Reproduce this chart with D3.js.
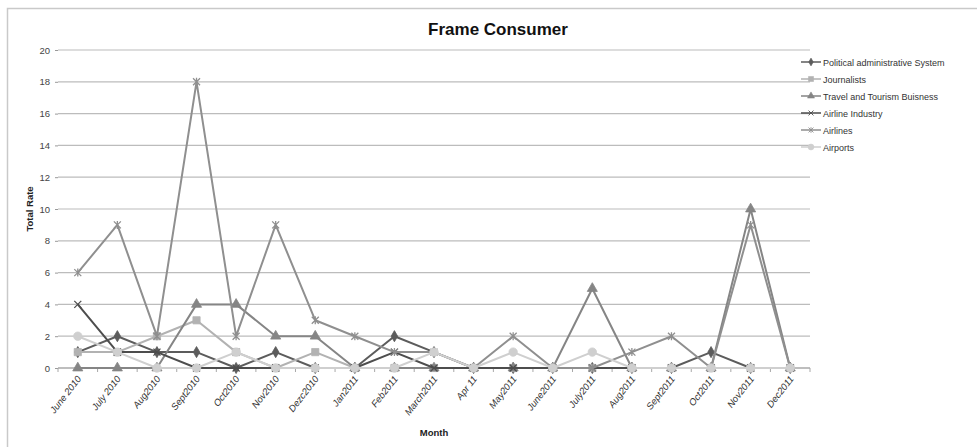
<!DOCTYPE html>
<html>
<head>
<meta charset="utf-8">
<script src="https://cdn.jsdelivr.net/npm/d3@7"></script>
<style>
  body { margin: 0; background: #fff; }
  svg { display: block; font-family: "Liberation Sans", Arial, sans-serif; }
</style>
</head>
<body>
<svg id="chart" width="977" height="447"></svg>
<script>
// Month categories along the x axis
const months = ["June 2010","July 2010","Aug2010","Sept2010","Oct2010","Nov2010","Dezc2010",
  "Jan2011","Feb2011","March2011","Apr 11","May2011","June2011","July2011","Aug2011",
  "Sept2011","Oct2011","Nov2011","Dec2011"];

// Counts per frame consumer group
const politicalSystem = [1,2,1,1,0,1,0,0,2,1,0,0,0,0,0,0,1,0,0];
const journalists     = [1,1,2,3,1,0,1,0,0,0,0,0,0,0,0,0,0,0,0];
const travelTourism   = [0,0,0,4,4,2,2,0,0,0,0,0,0,5,0,0,0,10,0];
const airlineIndustry = [4,1,1,0,0,0,0,0,1,0,0,0,0,0,0,0,0,0,0];
const airlines        = [6,9,2,18,2,9,3,2,1,1,0,2,0,0,1,2,0,9,0];
const airports        = [2,1,0,0,1,0,0,0,0,1,0,1,0,1,0,0,0,0,0];

const yTicks = [0,2,4,6,8,10,12,14,16,18,20];

const series = [
  { name: "Political administrative System", values: politicalSystem, color: "#5c5c5c", marker: "diamond" },
  { name: "Journalists",                    values: journalists,     color: "#b2b2b2", marker: "square" },
  { name: "Travel and Tourism Buisness",     values: travelTourism,   color: "#858585", marker: "triangle" },
  { name: "Airline Industry",                values: airlineIndustry, color: "#4d4d4d", marker: "x" },
  { name: "Airlines",                        values: airlines,        color: "#8f8f8f", marker: "star" },
  { name: "Airports",                        values: airports,        color: "#cfcfcf", marker: "circle" }
];

const svg = d3.select("#chart");

// outer frame
svg.append("rect")
  .attr("x", 7.5).attr("y", 8.5).attr("width", 1000).attr("height", 500)
  .attr("fill", "none").attr("stroke", "#c9c9c9").attr("stroke-width", 1.5);

const plot = { left: 58, right: 810, top: 50, bottom: 368 };

const x = d3.scaleBand().domain(months).range([plot.left, plot.right]);
const cx = m => x(m) + x.bandwidth() / 2;
const y = d3.scaleLinear().domain([0, 20]).range([plot.bottom, plot.top]);

// horizontal gridlines
svg.append("g").selectAll("line")
  .data(yTicks.filter(t => t > 0))
  .join("line")
  .attr("x1", plot.left).attr("x2", plot.right)
  .attr("y1", d => y(d)).attr("y2", d => y(d))
  .attr("stroke", "#bcbcbc").attr("stroke-width", 1.2);

// y axis: small ticks and labels, no spine
const yAxis = svg.append("g")
  .attr("transform", `translate(${plot.left},0)`)
  .call(d3.axisLeft(y).tickValues(yTicks).tickSize(3).tickPadding(5).tickFormat(d3.format("d")));
yAxis.select(".domain").remove();
yAxis.selectAll(".tick line").attr("stroke", "#999");
yAxis.selectAll(".tick text")
  .attr("font-size", 9.5).attr("fill", "#444")
  .attr("font-family", "\"Liberation Sans\", Arial, sans-serif");

// x axis baseline
svg.append("line")
  .attr("x1", plot.left).attr("x2", plot.right)
  .attr("y1", plot.bottom).attr("y2", plot.bottom)
  .attr("stroke", "#a8a8a8").attr("stroke-width", 1.5);

// tick marks between categories
const boundaries = months.map(m => x(m)).concat([plot.right]);
svg.append("g").selectAll("line")
  .data(boundaries)
  .join("line")
  .attr("x1", d => d).attr("x2", d => d)
  .attr("y1", plot.bottom).attr("y2", plot.bottom + 4)
  .attr("stroke", "#a8a8a8");

// x axis labels, slanted
const xAxis = svg.append("g")
  .attr("transform", `translate(0,${plot.bottom})`)
  .call(d3.axisBottom(x).tickSize(0).tickPadding(0));
xAxis.select(".domain").remove();
xAxis.selectAll(".tick text")
  .attr("font-size", 9.5).attr("fill", "#333")
  .attr("font-style", "italic")
  .attr("font-family", "\"Liberation Sans\", Arial, sans-serif")
  .attr("text-anchor", "end")
  .attr("dy", null)
  .attr("transform", "translate(4,11) rotate(-52)");

// marker shapes
function markerPath(type) {
  switch (type) {
    case "diamond":  return d3.symbol().type(d3.symbolDiamond).size(36)();
    case "square":   return d3.symbol().type(d3.symbolSquare).size(52)();
    case "triangle": return d3.symbol().type(d3.symbolTriangle).size(44)();
    case "circle":   return d3.symbol().type(d3.symbolCircle).size(56)();
    case "x":        return "M-3.5,-3.5L3.5,3.5M-3.5,3.5L3.5,-3.5";
    case "star":     return "M-3.5,-3.5L3.5,3.5M-3.5,3.5L3.5,-3.5M0,-4L0,4";
  }
}
function drawMarker(sel, s) {
  const open = s.marker === "x" || s.marker === "star";
  sel.append("path")
    .attr("d", markerPath(s.marker))
    .attr("fill", open ? "none" : s.color)
    .attr("stroke", s.color)
    .attr("stroke-width", open ? 1.3 : 0.8);
}

const line = d3.line().x(d => cx(d.m)).y(d => y(d.v));

series.forEach(s => {
  const pts = months.map((m, i) => ({ m, v: s.values[i] }));
  const g = svg.append("g");
  g.append("path")
    .datum(pts)
    .attr("d", line)
    .attr("fill", "none")
    .attr("stroke", s.color)
    .attr("stroke-width", 2)
    .attr("stroke-linejoin", "round");
  pts.forEach(p => {
    const mg = g.append("g").attr("transform", `translate(${cx(p.m)},${y(p.v)})`);
    drawMarker(mg, s);
  });
});

// title
svg.append("text")
  .attr("x", 498).attr("y", 35)
  .attr("text-anchor", "middle")
  .attr("font-size", 17).attr("font-weight", "bold").attr("fill", "#111")
  .text("Frame Consumer");

// axis titles
svg.append("text")
  .attr("transform", `translate(33,${(plot.top + plot.bottom) / 2}) rotate(-90)`)
  .attr("text-anchor", "middle")
  .attr("font-size", 9.5).attr("font-weight", "bold").attr("fill", "#222")
  .text("Total Rate");

svg.append("text")
  .attr("x", (plot.left + plot.right) / 2).attr("y", 436)
  .attr("text-anchor", "middle")
  .attr("font-size", 9.5).attr("font-weight", "bold").attr("fill", "#222")
  .text("Month");

// legend
const legend = svg.append("g").attr("transform", "translate(801,62)");
series.forEach((s, i) => {
  const row = legend.append("g").attr("transform", `translate(0,${i * 17})`);
  row.append("line")
    .attr("x1", 0).attr("x2", 20).attr("y1", 0).attr("y2", 0)
    .attr("stroke", s.color).attr("stroke-width", 1.5);
  const mg = row.append("g");
  drawMarker(mg, s);
  mg.attr("transform", "translate(10,0) scale(0.7)");
  row.append("text")
    .attr("x", 22).attr("y", 3.5)
    .attr("font-size", 9).attr("fill", "#333")
    .text(s.name);
});
</script>
</body>
</html>
